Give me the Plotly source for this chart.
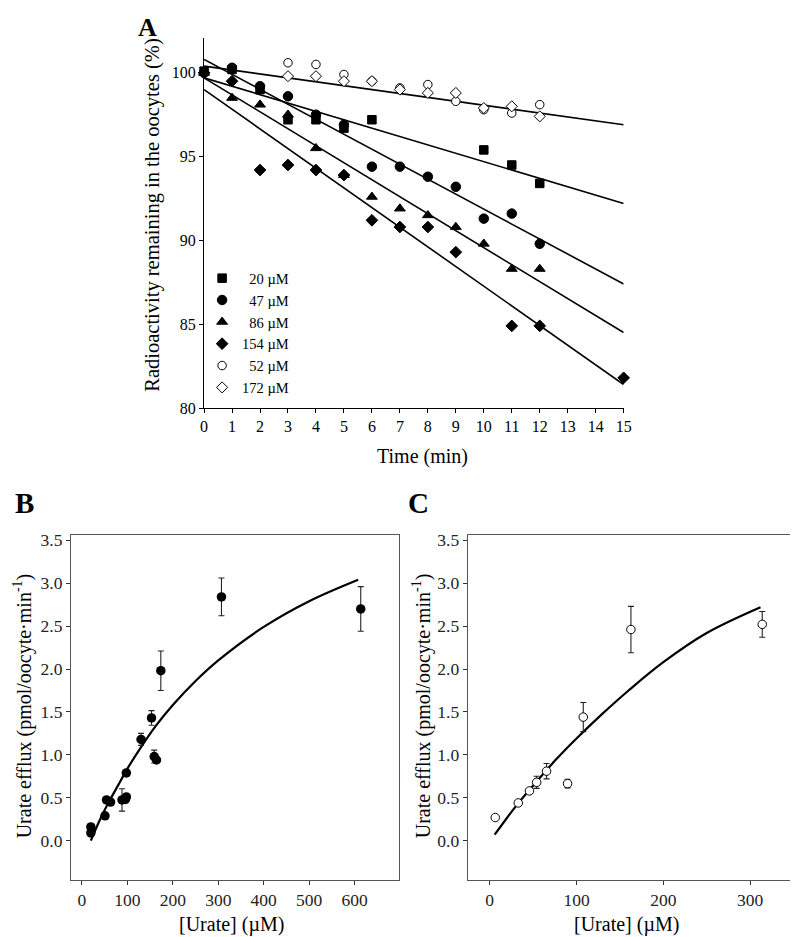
import plotly.graph_objects as go

W, H = 798, 937
FONT = "Liberation Serif"

# ---------------- Panel A data ----------------
a_labels = ["\u200720 \u00b5M", "\u200747 \u00b5M", "\u200786 \u00b5M", "154 \u00b5M", "\u200752 \u00b5M", "172 \u00b5M"]

t_sq20 = [0, 1, 2, 3, 4, 5, 6, 10, 11, 12]
y_sq20 = [100.1, 100.2, 99.0, 97.2, 97.2, 96.7, 97.2, 95.4, 94.5, 93.4]

t_c47 = [0, 1, 2, 3, 4, 5, 6, 7, 8, 9, 10, 11, 12]
y_c47 = [100.0, 100.3, 99.2, 98.6, 97.5, 96.9, 94.4, 94.4, 93.8, 93.2, 91.3, 91.6, 89.8]

t_t86 = [0, 1, 2, 3, 4, 5, 6, 7, 8, 9, 10, 11, 12]
y_t86 = [100.0, 98.5, 98.1, 97.5, 95.5, 93.9, 92.6, 91.9, 91.5, 90.8, 89.8, 88.3, 88.3]

t_d154 = [0, 1, 2, 3, 4, 5, 6, 7, 8, 9, 11, 12, 15]
y_d154 = [100.0, 99.5, 94.2, 94.5, 94.2, 93.9, 91.2, 90.8, 90.8, 89.3, 84.9, 84.9, 81.8]

t_o52 = [3, 4, 5, 6, 7, 8, 9, 10, 11, 12]
y_o52 = [100.6, 100.5, 99.9, 99.5, 99.1, 99.3, 98.3, 97.8, 97.6, 98.1]

t_o172 = [3, 4, 5, 6, 7, 8, 9, 10, 11, 12]
y_o172 = [99.8, 99.8, 99.5, 99.5, 99.0, 98.8, 98.8, 97.9, 98.0, 97.4]

# fitted lines (read at start and end)
t_line = [0, 15]
line_open = [100.4, 96.9]
line_sq = [99.7, 92.2]
line_c = [100.8, 87.4]
line_t = [99.7, 84.5]
line_d = [99.0, 81.4]

a_xticks = list(range(0, 16))
a_yticks = [80, 85, 90, 95, 100]

# ---------------- Panel B data ----------------
b_x = [19.5, 19.5, 50.6, 54, 62.9, 88, 97.6, 97.6, 95.5, 130, 153, 159, 164, 173.5, 307, 613.6]
b_y = [0.16, 0.09, 0.29, 0.475, 0.45, 0.475, 0.79, 0.51, 0.48, 1.18, 1.43, 0.98, 0.94, 1.98, 2.84, 2.70]
b_err = [0.0, 0.0, 0.0, 0.0, 0.0, 0.13, 0.0, 0.0, 0.0, 0.07, 0.085, 0.075, 0.0, 0.23, 0.22, 0.26]

b_curve_x = [19.5, 40, 60, 80, 100, 130, 160, 200, 250, 300, 400, 500, 608]
b_curve_y = [0.0, 0.25, 0.46, 0.65, 0.84, 1.09, 1.32, 1.58, 1.86, 2.10, 2.49, 2.79, 3.04]

# ---------------- Panel C data ----------------
c_x = [6.4, 32.9, 45.8, 54.1, 65.5, 89.7, 107.8, 162.7, 314]
c_y = [0.27, 0.44, 0.58, 0.68, 0.81, 0.665, 1.44, 2.46, 2.52]
c_err = [0.0, 0.0, 0.0, 0.07, 0.09, 0.05, 0.17, 0.27, 0.15]

c_curve_x = [5.7, 30, 50, 75, 100, 130, 160, 200, 250, 312]
c_curve_y = [0.07, 0.40, 0.64, 0.93, 1.19, 1.48, 1.75, 2.08, 2.42, 2.72]

bc_yticks = [0.0, 0.5, 1.0, 1.5, 2.0, 2.5, 3.0, 3.5]
b_xticks = [0, 100, 200, 300, 400, 500, 600]
c_xticks = [0, 100, 200, 300]

fig = go.Figure()

# Panel A lines
for ly in [line_open, line_sq, line_c, line_t, line_d]:
    fig.add_trace(go.Scatter(x=t_line, y=ly, mode="lines", line=dict(color="black", width=1.6),
                             showlegend=False, xaxis="x", yaxis="y", cliponaxis=False, hoverinfo="skip"))

# Panel A markers (open first so filled ones cover)
a_series = [
    (t_o52, y_o52, "circle", "white", 8.5, 4),
    (t_o172, y_o172, "diamond", "white", 8.5, 5),
    (t_sq20, y_sq20, "square", "black", 8.5, 0),
    (t_c47, y_c47, "circle", "black", 9.5, 1),
    (t_t86, y_t86, "triangle-up", "black", 9.5, 2),
    (t_d154, y_d154, "diamond", "black", 9, 3),
]
for tx, ty, sym, col, sz, li in a_series:
    fig.add_trace(go.Scatter(x=tx, y=ty, mode="markers", name=a_labels[li], legendrank=li + 1,
                             marker=dict(symbol=sym, color=col, size=sz, line=dict(color="black", width=1)),
                             xaxis="x", yaxis="y", cliponaxis=False))

# Panel B
fig.add_trace(go.Scatter(x=b_curve_x, y=b_curve_y, mode="lines", line=dict(color="black", width=2.2, shape="spline"),
                         showlegend=False, xaxis="x2", yaxis="y2"))
fig.add_trace(go.Scatter(x=b_x, y=b_y, mode="markers", showlegend=False, xaxis="x2", yaxis="y2",
                         marker=dict(symbol="circle", color="black", size=9.5),
                         error_y=dict(type="data", array=b_err, visible=True, color="#222", thickness=1.1, width=3)))

# Panel C
fig.add_trace(go.Scatter(x=c_curve_x, y=c_curve_y, mode="lines", line=dict(color="black", width=2.2, shape="spline"),
                         showlegend=False, xaxis="x3", yaxis="y3"))
fig.add_trace(go.Scatter(x=c_x, y=c_y, mode="markers", showlegend=False, xaxis="x3", yaxis="y3",
                         marker=dict(symbol="circle", color="white", size=8.5, line=dict(color="black", width=1)),
                         error_y=dict(type="data", array=c_err, visible=True, color="#222", thickness=1.1, width=3)))

def px_x(p):
    return p / W

def px_y(p):
    return 1 - p / H

tickfontA = dict(family=FONT, size=16, color="black")
tickfontBC = dict(family=FONT, size=17.5, color="#222")

axA = dict(showgrid=False, zeroline=False, showline=True, linecolor="black", linewidth=1.2,
           ticks="outside", ticklen=4, tickwidth=1, tickcolor="black", tickfont=tickfontA)
axBC = dict(showgrid=False, zeroline=False, showline=True, linecolor="#555", linewidth=1.2, mirror=True,
            ticks="outside", ticklen=4, tickwidth=1, tickcolor="#333", tickfont=tickfontBC)

fig.update_layout(
    width=W, height=H,
    margin=dict(l=0, r=0, t=0, b=0),
    paper_bgcolor="white", plot_bgcolor="white",
    font=dict(family=FONT, color="black"),
    xaxis=dict(**axA, domain=[px_x(195), px_x(621)], range=[0, 15], tickvals=a_xticks, anchor="y"),
    yaxis=dict(**axA, domain=[px_y(401), px_y(25)], range=[80, 102.1], tickvals=a_yticks, anchor="x"),
    xaxis2=dict(**axBC, domain=[px_x(60), px_x(393)], range=[-24, 698], tickvals=b_xticks, anchor="y2"),
    yaxis2=dict(**axBC, domain=[px_y(880), px_y(530)], range=[-0.456, 3.56], tickvals=bc_yticks,
                tickformat=".1f", anchor="x2"),
    xaxis3=dict(**axBC, domain=[px_x(462.7), px_x(794.3)], range=[-25.3, 351], tickvals=c_xticks, anchor="y3"),
    yaxis3=dict(**axBC, domain=[px_y(880), px_y(530)], range=[-0.456, 3.56], tickvals=bc_yticks,
                tickformat=".1f", anchor="x3"),
    showlegend=True,
    legend=dict(x=px_x(193), y=px_y(253), xanchor="left", yanchor="top", bgcolor="rgba(0,0,0,0)",
                font=dict(family=FONT, size=14.5, color="black"), itemwidth=30, tracegroupgap=0,
                traceorder="normal"),
)

ann = [
    dict(text="<b>A</b>", x=px_x(138), y=px_y(15), size=26, angle=0),
    dict(text="<b>B</b>", x=px_x(13), y=px_y(497), size=29, angle=0),
    dict(text="<b>C</b>", x=px_x(413), y=px_y(497), size=29, angle=0),
    dict(text="Radioactivity remaining in the oocytes (%)", x=px_x(143), y=px_y(205), size=20.5, angle=-90),
    dict(text="Time (min)", x=px_x(417), y=px_y(450), size=20, angle=0),
    dict(text="Urate efflux (pmol/oocyte\u00b7min<sup>-1</sup>)", x=px_x(11), y=px_y(703), size=20, angle=-90),
    dict(text="Urate efflux (pmol/oocyte\u00b7min<sup>-1</sup>)", x=px_x(416), y=px_y(703), size=20, angle=-90),
    dict(text="[Urate] (\u00b5M)", x=px_x(223), y=px_y(925), size=20, angle=0),
    dict(text="[Urate] (\u00b5M)", x=px_x(624), y=px_y(925), size=20, angle=0),
]
for a in ann:
    fig.add_annotation(text=a["text"], x=a["x"], y=a["y"], xref="paper", yref="paper", showarrow=False,
                       xanchor="center", yanchor="middle", textangle=a["angle"],
                       font=dict(family=FONT, size=a["size"], color="black"))

fig.write_html("out.html")
